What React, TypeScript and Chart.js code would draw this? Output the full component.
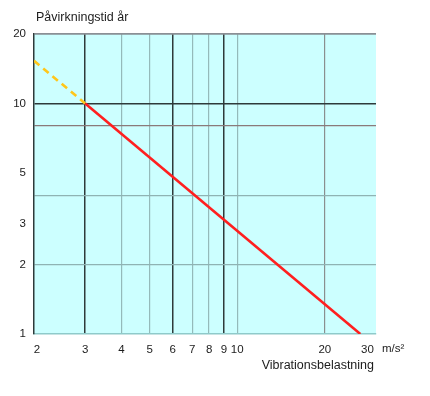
import React, { useEffect, useRef } from "react";
import { Chart, registerables } from "chart.js";

Chart.register(...registerables);

const xTicks = [2, 3, 4, 5, 6, 7, 8, 9, 10, 20, 30];
const yTicks = [1, 2, 3, 4, 5, 8, 10, 20];
const yLabelValues = [1, 2, 3, 5, 10, 20];
const solidX = [3, 26.5];
const solidY = [10, 1];
const dashedX = [2, 3];
const dashedY = [15.3, 10];

const yTitle = "Påvirkningstid år";
const xTitle = "Vibrationsbelastning";
const xUnit = "m/s²";

const FONT = "'Liberation Sans', Arial, sans-serif";

const xGridColor = (v: number) => {
  if (v === 3 || v === 6 || v === 9) return "#2e3a3a";
  if (v === 20) return "#8a8f8f";
  if (v === 2 || v === 30) return "rgba(0,0,0,0)";
  return "#94baba";
};
const xGridWidth = (v: number) => (v === 3 || v === 6 || v === 9 ? 1.5 : 1.2);

const yGridColor = (v: number) => {
  if (v === 10) return "#2e3a3a";
  if (v === 20) return "#8a8f95";
  if (v === 8) return "#8a7a7a";
  if (v === 2 || v === 4) return "#8fb3b3";
  return "rgba(0,0,0,0)";
};
const yGridWidth = (v: number) => (v === 10 ? 1.5 : v === 20 ? 1.8 : 1.2);

const xLabel = (v: number) => {
  if (v === 2) return "\u2002" + String(v);
  if (v === 30) return String(v) + "\u2003\u2002";
  return String(v);
};

export default function App() {
  const ref = useRef<HTMLCanvasElement>(null);
  useEffect(() => {
    if (!ref.current) return;
    const bgPlugin = {
      id: "bg",
      beforeDraw(chart: any) {
        const { ctx, chartArea: a } = chart;
        ctx.save();
        ctx.fillStyle = "#ccffff";
        ctx.fillRect(a.left, a.top, a.right - a.left, a.bottom - a.top);
        ctx.restore();
      },
      afterDraw(chart: any) {
        const { ctx, chartArea: a } = chart;
        ctx.save();
        ctx.fillStyle = "#1c1c1c";
        ctx.textBaseline = "middle";
        ctx.font = `12.5px ${FONT}`;
        ctx.textAlign = "left";
        ctx.fillText(yTitle, a.left + 2, 18);
        ctx.font = `11.5px ${FONT}`;
        ctx.fillText(xUnit, a.right + 6, 349);
        ctx.font = `12.5px ${FONT}`;
        ctx.textAlign = "right";
        ctx.fillText(xTitle, a.right - 2, 366);
        ctx.restore();
      },
    };
    const chart = new Chart(ref.current, {
      type: "scatter",
      data: {
        datasets: [
          {
            data: solidX.map((x, i) => ({ x, y: solidY[i] })),
            showLine: true,
            borderColor: "#ff1f1f",
            borderWidth: 2.6,
            pointRadius: 0,
          },
          {
            data: dashedX.map((x, i) => ({ x, y: dashedY[i] })),
            showLine: true,
            borderColor: "#ffc61a",
            borderWidth: 2.6,
            borderDash: [7, 5],
            pointRadius: 0,
          },
        ],
      },
      plugins: [bgPlugin],
      options: {
        responsive: false,
        animation: false,
        layout: { padding: { left: 0, top: 34, right: 54, bottom: 0 } },
        plugins: { legend: { display: false }, tooltip: { enabled: false } },
        scales: {
          x: {
            type: "logarithmic",
            min: 2,
            max: 30,
            afterBuildTicks: (s: any) => {
              s.ticks = xTicks.map((v) => ({ value: v }));
            },
            afterFit: (s: any) => {
              s.height = 62;
            },
            ticks: {
              autoSkip: false,
              maxRotation: 0,
              padding: 9,
              color: "#1c1c1c",
              font: { family: FONT, size: 11.5 },
              callback: (v: any) => xLabel(v),
            },
            grid: {
              drawTicks: false,
              color: (c: any) => xGridColor(c.tick?.value),
              lineWidth: (c: any) => xGridWidth(c.tick?.value),
            },
            border: { color: "#8fcaca", width: 1.5 },
          },
          y: {
            type: "logarithmic",
            min: 1,
            max: 20,
            afterBuildTicks: (s: any) => {
              s.ticks = yTicks.map((v) => ({ value: v }));
            },
            afterFit: (s: any) => {
              s.width = 34;
            },
            ticks: {
              autoSkip: false,
              padding: 8,
              color: "#1c1c1c",
              font: { family: FONT, size: 11.5 },
              callback: (v: any) => (yLabelValues.includes(v) ? String(v) : ""),
            },
            grid: {
              drawTicks: false,
              color: (c: any) => yGridColor(c.tick?.value),
              lineWidth: (c: any) => yGridWidth(c.tick?.value),
            },
            border: { color: "#2e3a3a", width: 1.5 },
          },
        },
      },
    });
    return () => chart.destroy();
  }, []);
  return (
    <div style={{ position: "absolute", left: 0, top: 0, width: 430, height: 396, background: "#fff" }}>
      <canvas ref={ref} width={430} height={396} />
    </div>
  );
}
